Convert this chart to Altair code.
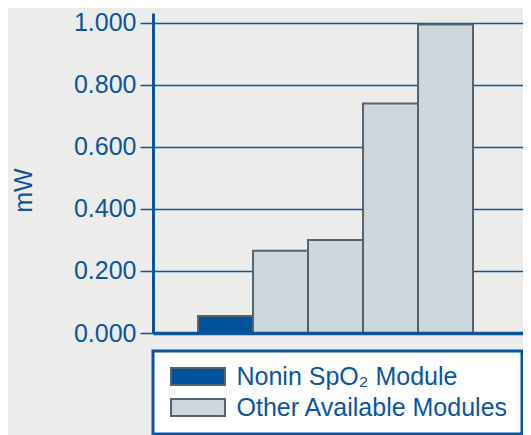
import altair as alt
import pandas as pd

# ---- data ----
modules = ["Nonin", "Module B", "Module C", "Module D", "Module E"]
power_mw = [0.055, 0.265, 0.300, 0.740, 0.995]
module_group = ["Nonin SpO₂ Module", "Other Available Modules", "Other Available Modules",
                "Other Available Modules", "Other Available Modules"]
legend_labels = ["Nonin SpO₂ Module", "Other Available Modules"]
bar_colors = ["#00529b", "#cfd7de"]
y_ticks = [0.0, 0.2, 0.4, 0.6, 0.8, 1.0]

BLUE = "#0b559f"
STROKE = "#56636d"
BG = "#ececea"
FONT = "Liberation Sans"

df = pd.DataFrame({"module": modules, "power": power_mw, "group": module_group})

chart = alt.Chart(df).mark_bar(stroke=STROKE, strokeWidth=2, opacity=1).encode(
    x=alt.X("module:N", sort=modules,
            scale=alt.Scale(paddingInner=0, paddingOuter=0.864, align=0.474),
            axis=alt.Axis(labels=False, ticks=False, title=None, grid=False,
                          domainColor=BLUE, domainWidth=3.5, zindex=1)),
    y=alt.Y("power:Q",
            scale=alt.Scale(domain=[0, 1.032], nice=False, zero=True),
            axis=alt.Axis(values=y_ticks, format=".3f", title="mW",
                          grid=True, gridColor=BLUE, gridWidth=1.5, gridOpacity=1,
                          domainColor=BLUE, domainWidth=3,
                          tickColor=BLUE, tickSize=13, tickWidth=1.5,
                          labelColor=BLUE, labelFont=FONT, labelFontSize=25,
                          labelPadding=4,
                          titleColor=BLUE, titleFont=FONT, titleFontSize=25,
                          titleFontWeight="normal", titleAngle=270,
                          titleBaseline="alphabetic",
                          titleX=-122, titleY=177)),
    color=alt.Color("group:N",
                    scale=alt.Scale(domain=legend_labels, range=bar_colors),
                    legend=alt.Legend(orient="none", legendX=0, legendY=338,
                                      title=None, fillColor="white",
                                      strokeColor=BLUE,
                                      padding=13,
                                      labelFont=FONT, labelFontSize=25,
                                      labelColor=BLUE, labelOffset=26,
                                      labelLimit=400,
                                      symbolType="M-2.84,-0.9H2.84V0.9H-2.84Z",
                                      symbolSize=361,
                                      symbolOffset=19.5,
                                      symbolStrokeColor=STROKE,
                                      symbolStrokeWidth=2,
                                      symbolOpacity=1,
                                      rowPadding=4)),
).properties(
    width=370, height=320,
    autosize=alt.AutoSizeParams(type="none"),
    padding={"left": 145, "top": 5, "right": 0, "bottom": 110},
    background=BG,
).configure_view(stroke=None).configure_legend(strokeWidth=3)

chart.save("out.html", embed_options={"renderer": "svg", "actions": False})
